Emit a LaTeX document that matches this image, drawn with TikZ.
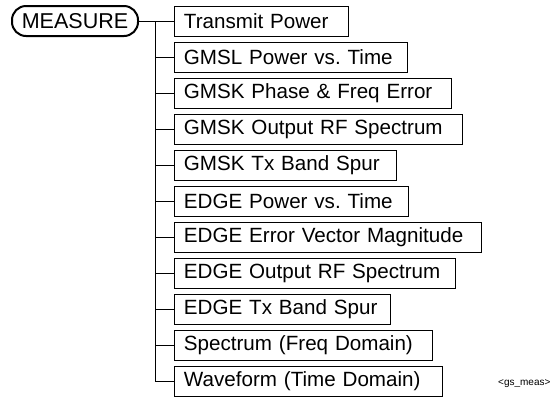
\documentclass[tikz,border=0pt]{standalone}
\usepackage{fontspec}
\setmainfont{Liberation Sans}
\frenchspacing
\begin{document}
\begin{tikzpicture}[x=1pt,y=-1pt,
  itembox/.style={draw,line width=0.9pt,anchor=west,minimum height=30pt,inner xsep=9.5pt,inner ysep=0pt,align=left,font=\fontsize{20.6}{23}\selectfont},
  keybox/.style={draw,line width=2pt,rounded corners=14pt,minimum width=126pt,minimum height=30pt,inner sep=0pt,font=\fontsize{21.5}{23}\selectfont},
  tree/.style={line width=0.9pt}]
\useasboundingbox (0,0) rectangle (557,400);
\node[keybox] (m) at (75,21) {MEASURE};
\node[itembox,text width=155pt] (b1) at (174,21) {\mbox{Transmit Power}};
\node[itembox,text width=214pt] (b2) at (174,57) {\mbox{GMSL Power vs. Time}};
\node[itembox,text width=258pt] (b3) at (174,93) {\mbox{GMSK Phase \& Freq Error}};
\node[itembox,text width=269pt] (b4) at (174,129) {\mbox{GMSK Output RF Spectrum}};
\node[itembox,text width=203pt] (b5) at (174,165) {\mbox{GMSK Tx Band Spur}};
\node[itembox,text width=215pt] (b6) at (174,201) {\mbox{EDGE Power vs. Time}};
\node[itembox,text width=288pt] (b7) at (174,237) {\mbox{EDGE Error Vector Magnitude}};
\node[itembox,text width=262pt] (b8) at (174,273) {\mbox{EDGE Output RF Spectrum}};
\node[itembox,text width=197pt] (b9) at (174,309) {\mbox{EDGE Tx Band Spur}};
\node[itembox,text width=239pt] (b10) at (174,345) {\mbox{Spectrum (Freq Domain)}};
\node[itembox,text width=249pt] (b11) at (174,381) {\mbox{Waveform (Time Domain)}};
\coordinate (top) at (155.5,21);
\draw[tree] (m.east) -- (b1.west);
\draw[tree] (top) |- (b11.west);
\foreach \i in {2,...,10} \draw[tree] (top |- b\i.west) -- (b\i.west);
\node[font=\fontsize{10}{12}\selectfont,anchor=west,inner sep=0pt] (tag) at (498,384) {<gs\_meas>};
\end{tikzpicture}
\end{document}
